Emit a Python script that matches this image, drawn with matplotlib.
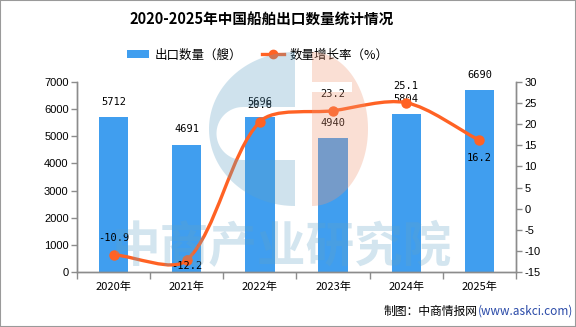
import numpy as np
import matplotlib
matplotlib.use("Agg")
import matplotlib.pyplot as plt
from matplotlib.path import Path
from matplotlib.patches import PathPatch, Patch, Rectangle, Polygon
from matplotlib.lines import Line2D

plt.rcParams['font.family'] = ['Noto Sans CJK SC', 'DejaVu Sans']
plt.rcParams['axes.unicode_minus'] = False

# 数据
years = ['2020年', '2021年', '2022年', '2023年', '2024年', '2025年']
exports = [5712, 4691, 5696, 4940, 5804, 6690]
growth = [-10.9, -12.2, 20.6, 23.2, 25.1, 16.2]
growth_pos = ['above', 'below', 'above', 'above', 'above', 'below']

bar_color = '#409EEF'
line_color = '#FF6224'
axis_gray = '#8c8c8c'

W, H = 576, 327
fig = plt.figure(figsize=(W / 100, H / 100), dpi=100)


def fx(px):
    return px / W


def fy(py):
    return 1 - py / H


# 主坐标区
l, r, t, b = 77, 516, 82, 272
ax = fig.add_axes([fx(l), fy(b), fx(r - l), (b - t) / H])
ax2 = ax.twinx()

x = np.arange(len(years))
ax.bar(x, exports, width=0.4, color=bar_color, zorder=2)
ax.set_xlim(-0.5, len(years) - 0.5)
ax.set_ylim(0, 7000)
ax.set_yticks(np.arange(0, 7001, 1000))
ax2.set_ylim(-15, 30)
ax2.set_yticks(np.arange(-15, 31, 5))

for a in (ax, ax2):
    a.spines['top'].set_visible(False)
    for s in ('left', 'right', 'bottom'):
        a.spines[s].set_color(axis_gray)
        a.spines[s].set_linewidth(1)
    a.tick_params(axis='y', colors=axis_gray, labelcolor='black', length=4,
                  width=1, labelsize=8, pad=2)
    for lab in a.get_yticklabels():
        lab.set_family('Liberation Sans')

# x轴：分隔刻度在类别之间，标签居中
ax.set_xticks(np.arange(-0.5, len(years), 1))
ax.set_xticklabels([])
ax.set_xticks(x, minor=True)
ax.set_xticklabels(years, minor=True, fontsize=8)
ax.tick_params(axis='x', which='major', colors=axis_gray, length=5, width=1)
ax.tick_params(axis='x', which='minor', length=0, pad=7, labelcolor='black')

# 柱顶数值
for xi, v in zip(x, exports):
    ax.annotate(str(v), (xi, v), xytext=(0, 11), textcoords='offset points',
                ha='center', va='center', fontsize=7.5,
                family='DejaVu Sans Mono', zorder=4)

# 平滑曲线（三次贝塞尔，在屏幕坐标中求控制点）
pts = ax2.transData.transform(np.column_stack([x, growth]))
smooth = 0.3
cps = []
n = len(pts)
for i in range(n):
    p = pts[i]
    prev = pts[i - 1] if i > 0 else p
    nxt = pts[i + 1] if i < n - 1 else p
    v = (nxt - prev) * smooth
    d0 = np.hypot(*(p - prev))
    d1 = np.hypot(*(p - nxt))
    ssum = d0 + d1
    if ssum > 0:
        d0, d1 = d0 / ssum, d1 / ssum
    cps.append((p - v * d0, p + v * d1))

verts = [pts[0]]
codes = [Path.MOVETO]
for i in range(n - 1):
    verts += [cps[i][1], cps[i + 1][0], pts[i + 1]]
    codes += [Path.CURVE4] * 3
verts = ax2.transData.inverted().transform(np.array(verts))
ax2.add_patch(PathPatch(Path(verts, codes), fill=False, edgecolor=line_color,
                        lw=2.4, zorder=3, capstyle='round'))
ax2.plot(x, growth, 'o', color=line_color, ms=6.5, zorder=4)

for xi, g, pos in zip(x, growth, growth_pos):
    dy = 12 if pos == 'above' else (-4 if g < 0 else -13)
    ax2.annotate(f'{g:.1f}', (xi, g), xytext=(0, dy), textcoords='offset points',
                 ha='center', va='center', fontsize=7.5,
                 family='DejaVu Sans Mono', zorder=5)

# 标题与图例
fig.text(0.454, fy(20), '2020-2025年中国船舶出口数量统计情况', ha='center',
         va='center', fontsize=10.5, fontweight='bold')
handles = [Patch(facecolor=bar_color, edgecolor='none'),
           Line2D([], [], color=line_color, lw=2.4, marker='o', ms=6)]
fig.legend(handles, ['出口数量（艘）', '数量增长率（%）'], loc='center',
           bbox_to_anchor=(fx(258), fy(55)), ncol=2, frameon=False,
           fontsize=9, handlelength=1.7, handleheight=0.6,
           columnspacing=1.6, handletextpad=0.5)

# 来源
src = fig.text(fx(384), fy(311), '制图：中商情报网', ha='left', va='center',
               fontsize=8.5)
ax.annotate('(www.askci.com)', xy=(1, 0.5), xycoords=src, xytext=(0, 0),
            textcoords='offset points', ha='left', va='center', fontsize=8.5,
            color='#2a4aa8', annotation_clip=False)

# 水印层
wm = fig.add_axes([0, 0, 1, 1], zorder=10)
wm.set_xlim(0, W)
wm.set_ylim(H, 0)
wm.axis('off')
wm.patch.set_alpha(0)

wm_blue = (98 / 255, 162 / 255, 198 / 255)
wm_peach = (240 / 255, 150 / 255, 115 / 255)

# 蓝色 C 形
cx, cy, ea, eb = 295, 129, 86, 77
tt = np.linspace(np.pi / 2, 3 * np.pi / 2, 80)
arc = np.column_stack([cx + ea * np.cos(tt), cy - eb * np.sin(tt)])[::-1]
sc, sr = (243, 133.5), 26.5
ts = np.linspace(np.pi / 2, 3 * np.pi / 2, 40)
semi = np.column_stack([sc[0] + sr * np.cos(ts), sc[1] - sr * np.sin(ts)])
blue_poly = np.vstack([[[cx, sc[1] - sr]], semi, [[cx, sc[1] + sr]],
                       arc, [[cx, sc[1] - sr]]])
wm.add_patch(Polygon(blue_poly, closed=True, facecolor=wm_blue, alpha=0.3,
                     edgecolor='none'))

# 橙色半圆
px0, pa = 312, 56
tp = np.linspace(np.pi / 2, -np.pi / 2, 80)
parc = np.column_stack([px0 + pa * np.cos(tp), cy - eb * np.sin(tp)])
peach_poly = np.vstack([[[px0, 92], [352, 92], [352, 82], [px0, 82]],
                        parc, [[px0, 92]]])
wm.add_patch(Polygon(peach_poly, closed=True, facecolor=wm_peach, alpha=0.3,
                     edgecolor='none'))

wm.text(282, 248, '中商产业研究院', ha='center', va='center', fontsize=35,
        fontweight='bold', color=wm_blue, alpha=0.28)

# 外框
fig.patches.append(Rectangle((0, 0), 1, 1, transform=fig.transFigure,
                             fill=False, edgecolor='#9a9a9a', lw=1.5))

fig.savefig('out.png', dpi=100)
